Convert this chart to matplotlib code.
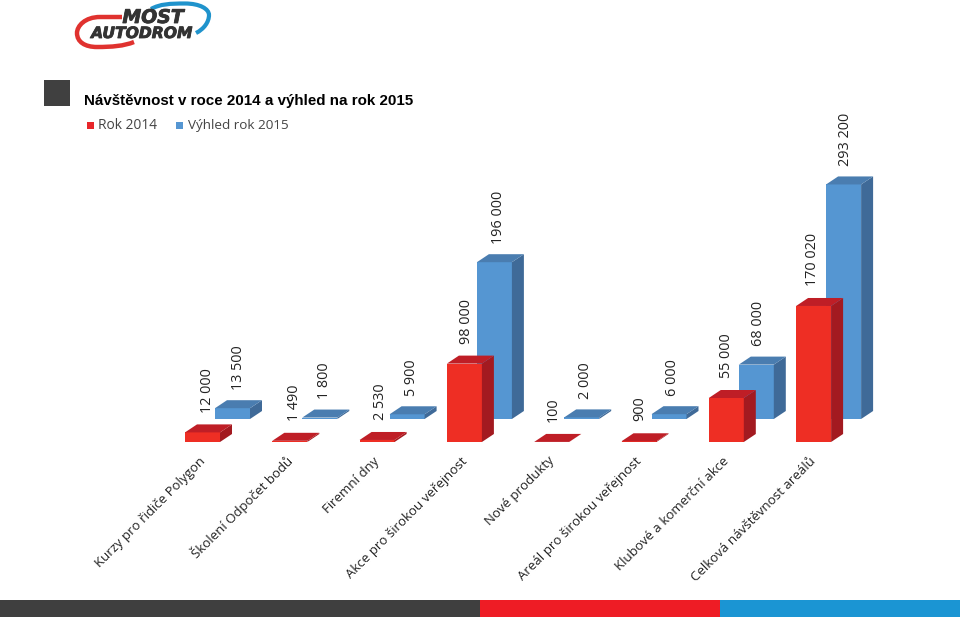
import numpy as np
import matplotlib.pyplot as plt
from matplotlib.patches import Polygon, Rectangle, PathPatch
from matplotlib.path import Path
import matplotlib.patheffects as pe

categories = ['Kurzy pro řidiče Polygon', 'Školení Odpočet bodů', 'Firemní dny',
              'Akce pro širokou veřejnost', 'Nové produkty', 'Areál pro širokou veřejnost',
              'Klubové a komerční akce', 'Celková návštěvnost areálů']
rok_2014 = [12000, 1490, 2530, 98000, 100, 900, 55000, 170020]
vyhled_2015 = [13500, 1800, 5900, 196000, 2000, 6000, 68000, 293200]
labels_2014 = ['12 000', '1 490', '2 530', '98 000', '100', '900', '55 000', '170 020']
labels_2015 = ['13 500', '1 800', '5 900', '196 000', '2 000', '6 000', '68 000', '293 200']
title = 'Návštěvnost v roce 2014 a výhled na rok 2015'
legend_names = ['Rok 2014', 'Výhled rok 2015']

W, H = 960, 618
STEP = 87.3
fig = plt.figure(figsize=(W / 100, H / 100), dpi=100)

# value axis fills the figure, 1 px = 1250 visitors
ax = fig.add_axes([0, 0, 1, 1])
ax.set_xlim(-202.5 / STEP, (W - 202.5) / STEP)
ax.set_ylim(-(H - 442) * 1250, 442 * 1250)
ax.axis('off')

# pixel axes for logo, footer and legend
px = fig.add_axes([0, 0, 1, 1], zorder=-1)
px.set_xlim(0, W)
px.set_ylim(H, 0)
px.axis('off')

bar_w = 35 / STEP
dep_x = 12 / STEP
dep_y = 8 * 1250


def bars(values, shift, base, front, side, top, z):
    for i, v in enumerate(values):
        x0 = i + shift - bar_w / 2
        x1 = x0 + bar_w
        y1 = base + v
        ax.bar(x0, v, width=bar_w, bottom=base, align='edge', color=front, linewidth=0, zorder=z)
        ax.add_patch(Polygon([(x1, base), (x1 + dep_x, base + dep_y), (x1 + dep_x, y1 + dep_y), (x1, y1)],
                             facecolor=side, linewidth=0, zorder=z))
        ax.add_patch(Polygon([(x0, y1), (x0 + dep_x, y1 + dep_y), (x1 + dep_x, y1 + dep_y), (x1, y1)],
                             facecolor=top, linewidth=0, zorder=z))


shift_blue = 30 / STEP
base_blue = 23 * 1250
bars(vyhled_2015, shift_blue, base_blue, '#5596D2', '#3F6A98', '#4A7DB0', 2)
bars(rok_2014, 0, 0, '#EE2E24', '#A31A20', '#BF1E26', 3)

num_font = 'Open Sans'
for i in range(len(categories)):
    # the value labels run a little tighter than the bars
    ax.annotate(labels_2014[i], (i + (5 - 0.8 * i) / STEP, rok_2014[i] + dep_y), xytext=(0, 8.5),
                textcoords='offset points', rotation=90, ha='center', va='bottom', fontsize=10.4,
                family=num_font, color='#222222', zorder=5)
    ax.annotate(labels_2015[i], (i + shift_blue + (5.5 - 0.5 * i) / STEP, base_blue + vyhled_2015[i] + dep_y),
                xytext=(0, 7.5), textcoords='offset points', rotation=90, ha='center', va='bottom', fontsize=10.4,
                family=num_font, color='#222222', zorder=5)
    ax.text(i + 0.5 / STEP, -17 * 1250, categories[i], rotation=45, rotation_mode='anchor', ha='right', va='center',
            fontsize=9.55, family=num_font, color='#222222')

# title block
px.add_patch(Rectangle((44, 80), 25.5, 25.5, facecolor='#404040', linewidth=0))
px.text(84, 100.5, title, fontsize=10.9, fontweight='bold', family='Liberation Sans', color='black', va='center')

# legend
px.add_patch(Rectangle((87, 122), 7, 7, facecolor='#E8262A', linewidth=0))
px.text(98, 125.5, legend_names[0], fontsize=9.9, family='Open Sans', color='#444444', va='center')
px.add_patch(Rectangle((176, 122), 7, 7, facecolor='#5596D2', linewidth=0))
px.text(187.5, 125.5, legend_names[1], fontsize=9.7, family='Open Sans', color='#444444', va='center')

# logo
red_arc = Path([(122, 17), (100, 17), (85, 17), (77, 26), (77, 33), (77, 42), (85, 47), (97, 47), (112, 47), (124, 46),
                (134, 42)],
               [Path.MOVETO, Path.LINETO, Path.CURVE4, Path.CURVE4, Path.CURVE4, Path.CURVE4, Path.CURVE4, Path.CURVE4,
                Path.CURVE4, Path.CURVE4, Path.CURVE4])
blue_arc = Path([(151, 9), (160, 4), (170, 3.5), (185, 3.5), (200, 3.5), (209, 9), (209, 15), (209, 22), (204, 29),
                 (196, 33)],
                [Path.MOVETO, Path.CURVE4, Path.CURVE4, Path.CURVE4, Path.CURVE4, Path.CURVE4, Path.CURVE4, Path.CURVE4,
                 Path.CURVE4, Path.CURVE4])
px.add_patch(PathPatch(red_arc, facecolor='none', edgecolor='#E0322F', linewidth=3.2, capstyle='butt'))
px.add_patch(PathPatch(blue_arc, facecolor='none', edgecolor='#1F93CC', linewidth=3.0, capstyle='butt'))
heavy = [pe.withStroke(linewidth=0.6, foreground='#333333')]
px.text(153, 17.5, 'MOST', fontsize=13.6, fontweight='bold', style='italic', family='DejaVu Sans', color='#333333',
        ha='center', va='center', path_effects=heavy)
px.text(141.5, 33.5, 'AUTODROM', fontsize=11.2, fontweight='bold', style='italic', family='DejaVu Sans',
        color='#333333', ha='center', va='center', path_effects=heavy)

# footer stripes
px.add_patch(Rectangle((0, 600), 480, 17, facecolor='#3F3F3F', linewidth=0))
px.add_patch(Rectangle((480, 600), 240, 17, facecolor='#EE1C25', linewidth=0))
px.add_patch(Rectangle((720, 600), 240, 17, facecolor='#1B95D3', linewidth=0))

fig.savefig('out.png', dpi=100)
